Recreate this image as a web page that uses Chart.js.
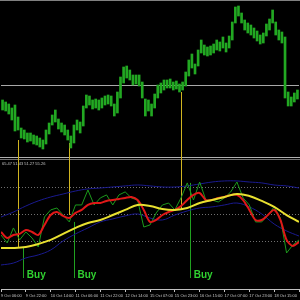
<!DOCTYPE html>
<html>
<head>
<meta charset="utf-8">
<script src="https://cdn.jsdelivr.net/npm/chart.js@4.4.1/dist/chart.umd.min.js"></script>
<style>
html,body{margin:0;padding:0;background:#000;}
#wrap{width:300px;height:300px;}
</style>
</head>
<body>
<div id="wrap"><canvas id="c" width="300" height="300"></canvas></div>
<script>
// time axis labels, one every 8 bars
const timeLabels = ['9 Oct 06:00','9 Oct 22:00','10 Oct 14:00','11 Oct 06:00','11 Oct 22:00','12 Oct 14:00',
  '15 Oct 07:00','15 Oct 23:00','16 Oct 15:00','17 Oct 07:00','17 Oct 23:00','18 Oct 15:00'];

// price bars (high / low), one per bar
const barHigh = [1.1520,1.1518,1.1516,1.1512,1.1515,1.1503,1.1492,1.1490,1.1487,1.1487,1.1485,1.1484,1.1482,1.1480,1.1490,1.1497,
  1.1505,1.1510,1.1501,1.1497,1.1495,1.1490,1.1484,1.1495,1.1500,1.1498,1.1514,1.1525,1.1524,1.1520,1.1521,1.1520,
  1.1522,1.1524,1.1525,1.1524,1.1516,1.1528,1.1543,1.1553,1.1554,1.1550,1.1545,1.1545,1.1545,1.1538,1.1521,1.1520,
  1.1516,1.1526,1.1535,1.1537,1.1540,1.1540,1.1541,1.1538,1.1539,1.1536,1.1538,1.1548,1.1560,1.1566,1.1556,1.1570,
  1.1580,1.1575,1.1573,1.1574,1.1576,1.1580,1.1578,1.1583,1.1577,1.1584,1.1598,1.1613,1.1614,1.1607,1.1600,1.1597,
  1.1595,1.1592,1.1589,1.1585,1.1587,1.1596,1.1601,1.1610,1.1598,1.1590,1.1588,1.1583,1.1528,1.1523,1.1527,1.1530];
const barLow = [1.1510,1.1509,1.1506,1.1500,1.1489,1.1490,1.1482,1.1481,1.1478,1.1479,1.1476,1.1475,1.1473,1.1471,1.1476,1.1486,
  1.1495,1.1498,1.1491,1.1488,1.1485,1.1480,1.1472,1.1477,1.1490,1.1487,1.1494,1.1512,1.1515,1.1511,1.1512,1.1510,
  1.1512,1.1515,1.1516,1.1514,1.1504,1.1507,1.1522,1.1537,1.1542,1.1540,1.1535,1.1536,1.1534,1.1522,1.1504,1.1509,
  1.1504,1.1512,1.1522,1.1527,1.1530,1.1532,1.1532,1.1530,1.1531,1.1528,1.1530,1.1534,1.1544,1.1552,1.1546,1.1554,
  1.1567,1.1565,1.1564,1.1565,1.1567,1.1570,1.1569,1.1572,1.1568,1.1572,1.1580,1.1597,1.1604,1.1597,1.1590,1.1587,
  1.1585,1.1582,1.1579,1.1576,1.1577,1.1584,1.1590,1.1597,1.1585,1.1580,1.1577,1.1522,1.1514,1.1514,1.1518,1.1521];
const priceLevels = [1.1535];

// TDI lines: bands and base every 4 bars, signal and RSI every 2 bars
const bandUpper = [48.0,51.3,55.3,58.7,61.3,63.3,65.3,66.7,67.3,68.0,68.7,69.3,68.7,68.0,68.0,68.7,70.0,71.3,72.0,72.0,71.3,70.7,69.3,68.7,67.3];
const bandLower = [16.0,17.3,20.7,22.7,26.0,32.0,36.7,40.7,44.7,46.7,48.7,50.0,47.3,46.0,49.3,52.0,54.0,54.7,56.0,57.3,54.7,50.0,43.3,38.7,35.3];
const baseLine = [27.3,27.3,28.0,30.0,32.7,36.7,40.7,44.0,46.0,49.3,52.7,56.0,55.3,53.3,52.7,54.0,57.3,59.3,61.3,63.3,62.0,58.7,54.7,49.3,44.7];
const signalLine = [38.0,34.0,36.0,36.7,39.3,38.0,36.0,42.7,49.3,51.3,48.7,47.3,50.7,52.7,56.0,57.3,57.3,58.7,59.3,60.0,60.7,61.3,59.3,52.7,44.7,
  46.0,49.3,51.3,52.7,55.3,59.3,62.7,64.0,59.3,59.3,60.7,61.3,62.7,62.7,59.3,52.7,46.0,46.0,49.3,52.7,46.0,32.7,28.7,31.3];
const rsiLine = [36.0,30.7,40.7,32.7,38.0,34.0,28.0,48.0,52.7,54.0,49.3,44.7,56.0,56.0,66.0,56.0,60.7,62.7,56.0,62.7,64.7,60.7,59.3,41.3,42.7,
  50.7,56.0,57.3,52.7,60.7,70.7,59.3,71.3,59.3,59.3,58.0,60.7,64.7,71.3,60.7,56.0,44.7,44.7,49.3,54.7,47.3,24.0,29.3,32.7];
const indLevels = [68, 50, 32];
const headerValues = ['65.47','51.43','51.27','55.26'];

// signals
const alertBars = [5.44, 21.76, 57.92];
const alertFrom = [1.1480, 1.1477, 1.1528];
const alertTo = [28.0, 49.3, 52.7];
const buyBars = [7.04, 23.36, 60.8];
const buyFrom = [28.0, 44.7, 70.7];
const buyTo = 7.3;
const buyText = 'Buy';

const pts = (arr, step) => arr.map((v, i) => ({x: i * step, y: v}));

const mtPlugin = {
  id: 'mt',
  beforeDatasetsDraw(chart) {
    const {ctx, chartArea} = chart;
    const {x, y, yi} = chart.scales;
    ctx.save();
    ctx.lineWidth = 1;
    // top border
    ctx.strokeStyle = '#808080';
    ctx.beginPath(); ctx.moveTo(0, 0.5); ctx.lineTo(300, 0.5); ctx.stroke();
    // horizontal price level
    ctx.strokeStyle = '#a8a8a8';
    priceLevels.forEach(p => {
      const py = Math.round(y.getPixelForValue(p)) + 0.5;
      ctx.beginPath(); ctx.moveTo(chartArea.left, py); ctx.lineTo(chartArea.right, py); ctx.stroke();
    });
    // separator between windows
    const sep = Math.round(y.bottom);
    ctx.strokeStyle = '#b0b0b0';
    ctx.beginPath(); ctx.moveTo(0, sep - 0.5); ctx.lineTo(300, sep - 0.5); ctx.stroke();
    ctx.strokeStyle = '#707070';
    ctx.beginPath(); ctx.moveTo(0, sep + 1.5); ctx.lineTo(300, sep + 1.5); ctx.stroke();
    // dotted levels
    ctx.strokeStyle = '#707070';
    ctx.setLineDash([1, 2]);
    indLevels.forEach(l => {
      const py = Math.round(yi.getPixelForValue(l)) + 0.5;
      ctx.beginPath(); ctx.moveTo(chartArea.left, py); ctx.lineTo(chartArea.right, py); ctx.stroke();
    });
    ctx.setLineDash([]);
    // yellow alert lines
    ctx.strokeStyle = '#d0b420';
    alertBars.forEach((b, k) => {
      const px = Math.round(x.getPixelForValue(b)) + 0.5;
      ctx.beginPath(); ctx.moveTo(px, y.getPixelForValue(alertFrom[k])); ctx.lineTo(px, yi.getPixelForValue(alertTo[k])); ctx.stroke();
    });
    // green buy lines
    ctx.strokeStyle = '#20a020';
    buyBars.forEach((b, k) => {
      const px = Math.round(x.getPixelForValue(b)) + 0.5;
      ctx.beginPath(); ctx.moveTo(px, yi.getPixelForValue(buyFrom[k])); ctx.lineTo(px, yi.getPixelForValue(buyTo)); ctx.stroke();
    });
    ctx.restore();
  },
  afterDatasetsDraw(chart) {
    const {ctx} = chart;
    const {x, y, yi} = chart.scales;
    ctx.save();
    ctx.fillStyle = '#30d030';
    ctx.font = 'bold 10px "Liberation Sans"';
    ctx.textBaseline = 'alphabetic';
    buyBars.forEach(b => {
      ctx.fillText(buyText, x.getPixelForValue(b) + 4, yi.getPixelForValue(buyTo));
    });
    ctx.fillStyle = '#c0c0c0';
    ctx.font = '4px "Liberation Sans"';
    ctx.textBaseline = 'top';
    ctx.fillText(headerValues.join(' '), 2, y.bottom + 4);
    ctx.restore();
  }
};

new Chart(document.getElementById('c'), {
  data: {
    datasets: [
      {type: 'line', yAxisID: 'yi', data: pts(baseLine, 4), borderColor: '#e8e030', borderWidth: 2, pointRadius: 0, tension: 0.4},
      {type: 'line', yAxisID: 'yi', data: pts(signalLine, 2), borderColor: '#e01818', borderWidth: 2, pointRadius: 0, tension: 0.3},
      {type: 'line', yAxisID: 'yi', data: pts(rsiLine, 2), borderColor: '#1c9a1c', borderWidth: 1, pointRadius: 0, tension: 0},
      {type: 'line', yAxisID: 'yi', data: pts(bandUpper, 4), borderColor: '#1a1a90', borderWidth: 1, pointRadius: 0, tension: 0.4},
      {type: 'line', yAxisID: 'yi', data: pts(bandLower, 4), borderColor: '#1a1a90', borderWidth: 1, pointRadius: 0, tension: 0.4},
      {type: 'bar', yAxisID: 'y', data: barHigh.map((h, i) => ({x: i + 0.5, y: [barLow[i], h]})),
        backgroundColor: '#22a822', barThickness: 2}
    ]
  },
  options: {
    responsive: false,
    animation: false,
    layout: {padding: 0},
    plugins: {legend: {display: false}, tooltip: {enabled: false}},
    scales: {
      x: {
        type: 'linear', min: 0, max: 96, position: 'bottom', offset: false,
        grid: {offset: false, drawOnChartArea: false, drawTicks: true, tickLength: 3, color: '#c0c0c0'},
        border: {display: true, color: '#c0c0c0'},
        ticks: {stepSize: 8, autoSkip: false, maxRotation: 0, align: 'start', padding: 1, color: '#c8c8c8',
          font: {size: 4, family: 'Liberation Sans'}, callback: v => timeLabels[v / 8] || ''},
        afterFit(s) { s.height = 11; }
      },
      y: {type: 'linear', position: 'right', min: 1.1462, max: 1.1620, stack: 'win', stackWeight: 158, display: false},
      yi: {type: 'linear', position: 'right', min: 0, max: 87.3, stack: 'win', stackWeight: 131, display: false}
    }
  },
  plugins: [mtPlugin]
});
</script>
</body>
</html>
